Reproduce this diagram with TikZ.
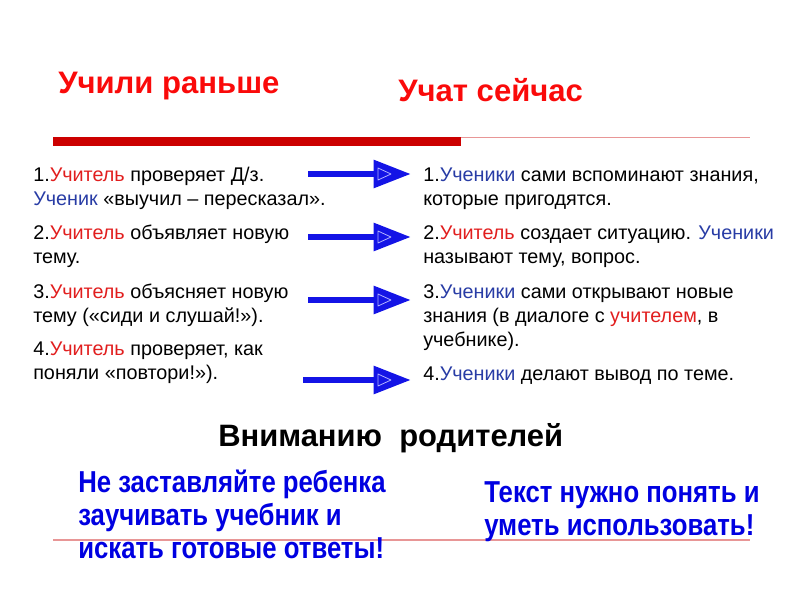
\documentclass[tikz,border=0pt]{standalone}
\usepackage{fontspec}
\setmainfont{Liberation Sans}
\newfontfamily\narrowfont[FakeStretch=0.85]{Liberation Sans}
\usetikzlibrary{arrows.meta, calc}

\definecolor{titlered}{RGB}{250,10,10}
\definecolor{barred}{RGB}{204,0,0}
\definecolor{linered}{RGB}{232,150,150}
\definecolor{teacher}{RGB}{225,30,30}
\definecolor{pupil}{RGB}{40,60,165}
\definecolor{arrowblue}{RGB}{20,20,230}
\definecolor{adviceblue}{RGB}{0,0,225}

\newcommand{\tea}[1]{\textcolor{teacher}{#1}}
\newcommand{\pup}[1]{\textcolor{pupil}{#1}}

\begin{document}
\begin{tikzpicture}[
    x=0.75pt, y=-0.75pt,
    title/.style={anchor=base west, inner sep=0pt, text=titlered, font=\fontsize{23.3}{27}\selectfont\bfseries},
    item/.style={anchor=base west, inner sep=0pt, align=left, font=\fontsize{14.85}{18}\selectfont},
    advice/.style={anchor=base west, inner sep=0pt, align=left, text=adviceblue, font=\narrowfont\bfseries\fontsize{22.7}{24.75}\selectfont},
    arr/.style={-{Triangle[length=28pt, width=20pt]}, line width=5pt, arrowblue},
    innertri/.style={draw=blue!30!white, line width=0.6pt, line join=round}
]

% rama
\useasboundingbox (0,0) rectangle (800,600);

% overskrifter
\node[title] (before) at (58,93) {Учили раньше};
\node[title] (now) at (398,101) {Учат сейчас};

% roed streg
\fill[barred] (53,137) rectangle (461,146);
\draw[linered, line width=1pt] (461,137.5) -- (750,137.5);

% venstre kolonne (base = sidste linje)
\node[item] (l1) at (33,205) {1.\tea{Учитель} проверяет Д/з.\\\pup{Ученик} «выучил – пересказал».};
\node[item] (l2) at (33,263) {2.\tea{Учитель} объявляет новую\\тему.};
\node[item] (l3) at (33,322) {3.\tea{Учитель} объясняет новую\\тему («сиди и слушай!»).};
\node[item] (l4) at (33,379) {4.\tea{Учитель} проверяет, как\\поняли «повтори!»).};

% hoejre kolonne
\node[item] (r1) at (423,205) {1.\pup{Ученики} сами вспоминают знания,\\которые пригодятся.};
\node[item] (r2) at (423,263) {2.\tea{Учитель} создает ситуацию. \pup{Ученики}\\называют тему, вопрос.};
\node[item] (r3) at (423,346) {3.\pup{Ученики} сами открывают новые\\знания (в диалоге с \tea{учителем}, в\\учебнике).};
\node[item] (r4) at (423,380) {4.\pup{Ученики} делают вывод по теме.};

% pile
\foreach \i/\xs/\y in {1/308/174, 2/308/237, 3/308/300, 4/303/380} {
    \coordinate (a\i s) at (\xs,\y);
    \coordinate (a\i e) at (411,\y);
    \draw[arr] (a\i s) -- (a\i e);
    \draw[innertri] ($(a\i e)+(-33,-6)$) -- ++(13,6) -- ++(-13,6) -- cycle;
}

% nederst
\draw[linered, line width=1pt] (53,540) -- (750,540);
\node[anchor=base west, inner sep=0pt, font=\fontsize{23.2}{27}\selectfont\bfseries] (attn) at (218,446) {Вниманию\ \ родителей};
\node[advice] (adv1) at (78,558) {Не заставляйте ребенка\\заучивать учебник и\\искать готовые ответы!};
\node[advice] (adv2) at (484,535) {Текст нужно понять и\\уметь использовать!};

\end{tikzpicture}
\end{document}
